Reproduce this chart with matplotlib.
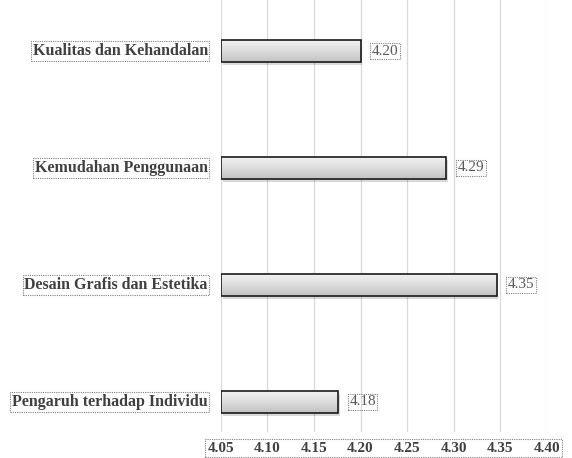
import matplotlib

matplotlib.use("Agg")
import matplotlib.pyplot as plt
import numpy as np
from matplotlib.colors import LinearSegmentedColormap
from matplotlib.patches import Rectangle

categories = [
    "Kualitas dan Kehandalan",
    "Kemudahan Penggunaan",
    "Desain Grafis dan Estetika",
    "Pengaruh terhadap Individu",
]
scores = [4.20, 4.292, 4.346, 4.176]
ticks = [4.05, 4.10, 4.15, 4.20, 4.25, 4.30, 4.35, 4.40]

plt.rcParams["font.family"] = ["Liberation Serif", "DejaVu Serif"]

fig = plt.figure(figsize=(5.72, 4.58), dpi=100)
ax = fig.add_axes([0.386, 0.057, 0.570, 0.943])

pos = np.arange(len(categories))
h = 0.19
base = 4.05
grad = np.linspace(0, 1, 64).reshape(-1, 1)
bar_cmap = LinearSegmentedColormap.from_list("bar", ["#f4f4f4", "#dedede", "#c2c2c2"])

# shadow
ax.barh(pos + 0.025, [s - base for s in scores], left=base + 0.002, height=h,
        color="#000000", alpha=0.15, zorder=2, lw=0)
bars = ax.barh(pos, [s - base for s in scores], left=base, height=h,
               color="none", edgecolor="#1a1a1a", lw=1.2, zorder=4)
for b in bars:
    x0, y0 = b.get_x(), b.get_y()
    im = ax.imshow(grad, cmap=bar_cmap, aspect="auto",
                   extent=(x0, x0 + b.get_width(), y0 + b.get_height(), y0),
                   zorder=3, interpolation="bicubic")
    im.set_clip_path(b)

for p, s in zip(pos, scores):
    ax.text(s + 0.012, p, f"{s:.2f}", va="center", ha="left", fontsize=11,
            color="#595959",
            bbox=dict(boxstyle="square,pad=0.1", fc="none", ec="#808080",
                      ls=(0, (1, 1)), lw=0.8))

ax.set_xlim(4.05, 4.40)
ax.set_ylim(3.256, -0.436)
ax.set_xticks(ticks)
ax.set_xticklabels([f"{t:.2f}" for t in ticks], fontsize=11, fontweight="bold",
                   color="#404040")
ax.set_yticks(pos)
ax.set_yticklabels([])
for p, c in zip(pos, categories):
    ax.text(4.05 - 0.014, p, c, ha="right", va="center", fontsize=11.5,
            fontweight="bold", color="#404040",
            bbox=dict(boxstyle="square,pad=0.1", fc="none", ec="#808080",
                      ls=(0, (1, 1)), lw=0.8))
ax.tick_params(axis="both", length=0, pad=7)
ax.grid(axis="x", color="#d9d9d9", lw=0.9)
ax.set_axisbelow(True)
for sp in ax.spines.values():
    sp.set_visible(False)

# dotted frame around the tick label row
fig.patches.append(Rectangle((205 / 572, 1 - 457 / 458), 357 / 572, 18 / 458,
                             transform=fig.transFigure, fill=False,
                             ec="#808080", ls=(0, (1, 1)), lw=0.8))

fig.savefig("out.png", dpi=100)
